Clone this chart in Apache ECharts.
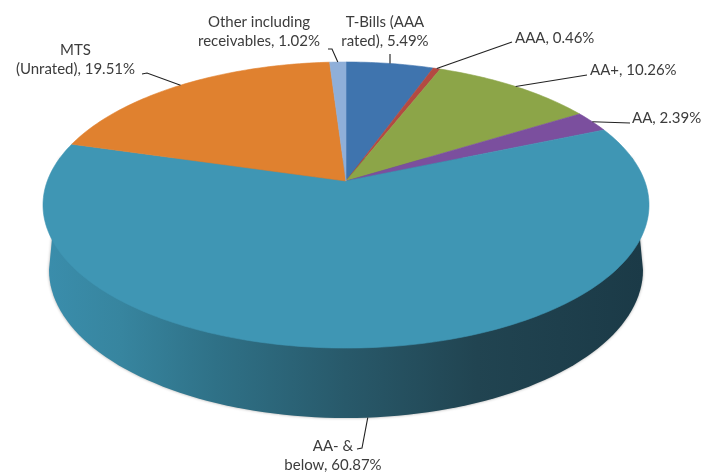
<!DOCTYPE html>
<html>
<head>
<meta charset="utf-8">
<style>html,body{margin:0;padding:0;background:#fff}#c{width:709px;height:473px}</style>
<script src="https://cdn.jsdelivr.net/npm/echarts@6/dist/echarts.min.js"></script>
</head>
<body>
<div id="c"></div>
<script>
var categories = ['T-Bills (AAA rated)', 'AAA', 'AA+', 'AA', 'AA- & below', 'MTS (Unrated)', 'Other including receivables'];
var values = [5.49, 0.46, 10.26, 2.39, 60.87, 19.51, 1.02];
var labelLines = [['T-Bills (AAA', 'rated), 5.49%'], ['AAA, 0.46%'], ['AA+, 10.26%'], ['AA, 2.39%'], ['AA- &', 'below, 60.87%'], ['MTS', '(Unrated), 19.51%'], ['Other including', 'receivables, 1.02%']];
var colors = ['#3f74ae', '#b34a42', '#8ca548', '#7b4f9e', '#3f96b4', '#e0812f', '#8fafd9'];

// Perspective of the tilted disc
var CX = 346, AY = 181, A = 298.7, B = 139, P = 0.168;
// Bottom rim of the disc
var BCY = 270, BRX = 297, BRY = 148;
// Label layout: anchor x, first-line centre y, align, then leader elbow points
var labelLayout = [
  {x: 385, y: 22, align: 'center', leader: [[390, 54]], onWall: false},
  {x: 515, y: 38, align: 'left', leader: [[512, 42]], onWall: false},
  {x: 590, y: 70, align: 'left', leader: [[587, 75]], onWall: false},
  {x: 632, y: 118, align: 'left', leader: [[630, 123]], onWall: false},
  {x: 333, y: 446, align: 'center', leader: [[362, 448], [357, 449]], onWall: true},
  {x: 75.5, y: 50, align: 'center', leader: [[147, 73], [142, 74]], onWall: false},
  {x: 259, y: 22, align: 'center', leader: [[332, 49], [328, 49]], onWall: false}
];
var FONT = 'Lato';

var total = values.reduce(function (a, b) { return a + b; }, 0);
function cumAngle(i) {
  var s = 0;
  for (var k = 0; k < i; k++) s += values[k];
  return s / total * Math.PI * 2;
}
function rim(t) {
  var u = Math.sin(t), v = -Math.cos(t), d = 1 - P * v;
  return [CX + A * u / d, AY + B * v / d];
}
function wallPolygon() {
  var pts = [rim(Math.PI / 2 - 0.17)];
  for (var a = 0; a <= 180; a += 2) {
    var r = a * Math.PI / 180;
    pts.push([CX + BRX * Math.cos(r), BCY + BRY * Math.sin(r)]);
  }
  pts.push(rim(Math.PI * 1.5 + 0.17));
  return pts;
}

var chart = echarts.init(document.getElementById('c'), null, {renderer: 'canvas'});
chart.setOption({
  animation: false,
  backgroundColor: '#fff',
  series: [
    {
      type: 'custom', coordinateSystem: 'none', silent: true, z: 1,
      data: [values[4]],
      renderItem: function () {
        return {
          type: 'polygon',
          shape: {points: wallPolygon()},
          style: {
            fill: new echarts.graphic.LinearGradient(0, 0, 1, 0, [
              {offset: 0, color: '#3a8dab'},
              {offset: 0.12, color: '#37859f'},
              {offset: 0.28, color: '#2f7187'},
              {offset: 0.5, color: '#28596a'},
              {offset: 0.72, color: '#214451'},
              {offset: 1, color: '#1b3a47'}
            ]),
            shadowBlur: 3, shadowColor: 'rgba(0,0,0,0.35)'
          }
        };
      }
    },
    {
      type: 'custom', coordinateSystem: 'none', silent: true, z: 2,
      data: values,
      renderItem: function (params) {
        var i = params.dataIndex;
        var a0 = cumAngle(i), a1 = cumAngle(i + 1);
        var pts = [[CX, AY]];
        var n = Math.max(2, Math.ceil((a1 - a0) / 0.02));
        for (var k = 0; k <= n; k++) pts.push(rim(a0 + (a1 - a0) * k / n));
        return {
          type: 'polygon',
          shape: {points: pts},
          style: {fill: colors[i], stroke: colors[i], lineWidth: 0.6}
        };
      }
    },
    {
      type: 'custom', coordinateSystem: 'none', silent: true, z: 3,
      data: categories,
      renderItem: function (params) {
        var i = params.dataIndex, L = labelLayout[i];
        var mid = (cumAngle(i) + cumAngle(i + 1)) / 2;
        var p = rim(mid);
        if (L.onWall) {
          var frac = (p[0] - CX) / BRX;
          p = [p[0], BCY + BRY * Math.sqrt(1 - frac * frac)];
        }
        var children = [{
          type: 'polyline',
          shape: {points: [p].concat(L.leader)},
          style: {stroke: '#222', lineWidth: 1.1, fill: null}
        }];
        labelLines[i].forEach(function (t, k) {
          children.push({
            type: 'text',
            style: {
              x: L.x, y: L.y + k * 19.3, text: t,
              font: '15px ' + FONT,
              fill: '#3c3c3c', align: L.align, verticalAlign: 'middle'
            }
          });
        });
        return {type: 'group', children: children};
      }
    }
  ]
});
</script>
</body>
</html>
